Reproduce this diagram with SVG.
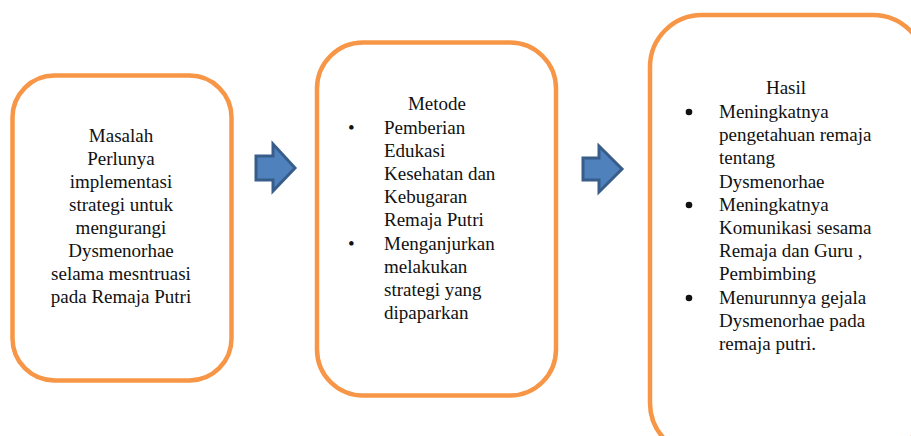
<svg xmlns="http://www.w3.org/2000/svg" width="911" height="436" viewBox="0 0 911 436">
<style>
.box{fill:#ffffff;stroke:#f79646;stroke-width:4.5}
.arr{fill:#4f81bd;stroke:#385d8a;stroke-width:3;stroke-linejoin:miter}
text{font-family:"Liberation Serif","Times New Roman",serif;font-size:19px;fill:#111111}
.c{text-anchor:middle}
.b{font-size:19px}
</style>
<rect width="911" height="436" fill="#ffffff"/>
<g id="connectors">
<path class="arr" d="M256,156 L273,156 L273,144 L295,168 L273,191 L273,180 L256,180 Z"/>
<path class="arr" d="M583,158 L599,158 L599,146 L622,169 L599,192 L599,180 L583,180 Z"/>
</g>
<g id="masalah">
<rect class="box" x="12.5" y="75.5" width="219" height="305" rx="42"/>
<text class="c" x="121" y="142">Masalah</text>
<text class="c" x="121" y="165">Perlunya</text>
<text class="c" x="121" y="188">implementasi</text>
<text class="c" x="121" y="211">strategi untuk</text>
<text class="c" x="121" y="234">mengurangi</text>
<text class="c" x="121" y="257">Dysmenorhae</text>
<text class="c" x="121" y="280">selama mesntruasi</text>
<text class="c" x="121" y="303">pada Remaja Putri</text>
</g>
<g id="metode">
<rect class="box" x="317" y="42.5" width="239" height="353" rx="46"/>
<text class="c" x="437" y="110">Metode</text>
<text class="b" x="348" y="134">•</text>
<text x="384" y="134">Pemberian</text>
<text x="384" y="157">Edukasi</text>
<text x="384" y="180">Kesehatan dan</text>
<text x="384" y="203">Kebugaran</text>
<text x="384" y="226">Remaja Putri</text>
<text class="b" x="348" y="250">•</text>
<text x="384" y="250">Menganjurkan</text>
<text x="384" y="273">melakukan</text>
<text x="384" y="296">strategi yang</text>
<text x="384" y="319">dipaparkan</text>
</g>
<g id="hasil">
<rect class="box" x="650" y="15" width="275" height="440" rx="52"/>
<text class="c" x="786" y="94">Hasil</text>
<circle cx="689" cy="112" r="3.3" fill="#111111"/>
<text x="719" y="118">Meningkatnya</text>
<text x="719" y="141">pengetahuan remaja</text>
<text x="719" y="164">tentang</text>
<text x="719" y="188">Dysmenorhae</text>
<circle cx="689" cy="205" r="3.3" fill="#111111"/>
<text x="719" y="211">Meningkatnya</text>
<text x="719" y="234">Komunikasi sesama</text>
<text x="719" y="257">Remaja dan Guru ,</text>
<text x="719" y="280">Pembimbing</text>
<circle cx="689" cy="298" r="3.3" fill="#111111"/>
<text x="719" y="304">Menurunnya gejala</text>
<text x="719" y="327">Dysmenorhae pada</text>
<text x="719" y="350">remaja putri.</text>
</g>
</svg>
